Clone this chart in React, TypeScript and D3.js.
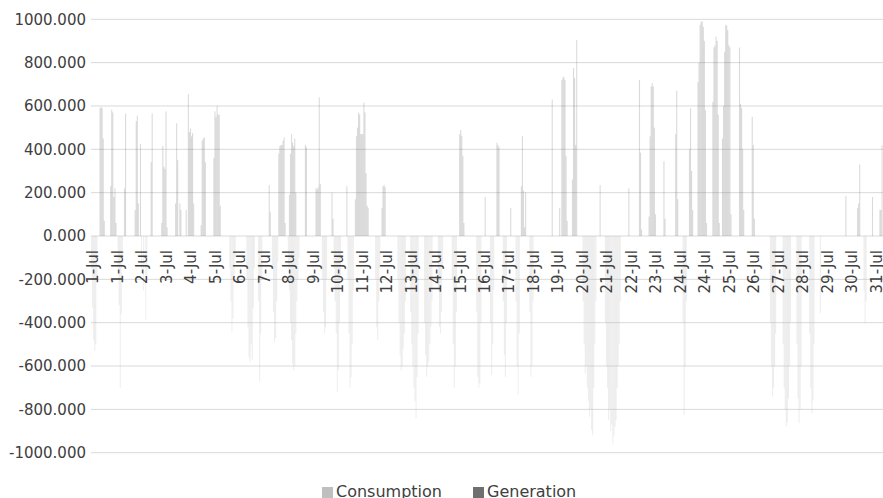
import React from "react";
import * as d3 from "d3";

// ---- data ----
// hourly categories for July: day 1..31, hour 0..23
const dayNumbers: number[] = d3.range(1, 32);
const hoursOfDay: number[] = d3.range(0, 24);

// [day, hour, value]
const generation: [number, number, number][] = [
  [1, 8, 590], [1, 9, 595], [1, 10, 590], [1, 11, 450], [1, 12, 70],
  [1, 18, 230], [1, 19, 583], [1, 20, 570], [1, 21, 180], [1, 22, 220], [1, 23, 60],
  [2, 7, 220], [2, 8, 565],
  [2, 17, 120], [2, 18, 530], [2, 19, 555], [2, 20, 150], [2, 22, 425],
  [3, 8, 340], [3, 9, 565],
  [3, 18, 60], [3, 19, 415], [3, 20, 320], [3, 21, 310], [3, 22, 575], [3, 23, 40],
  [4, 7, 150], [4, 8, 520], [4, 9, 350], [4, 11, 150], [4, 12, 120], [4, 17, 120],
  [4, 19, 655], [4, 20, 480], [4, 21, 495], [4, 22, 460], [4, 23, 475], [5, 0, 150],
  [5, 7, 50], [5, 8, 440], [5, 9, 450], [5, 10, 455], [5, 11, 340],
  [5, 19, 360], [5, 20, 575], [5, 21, 550], [5, 22, 600], [5, 23, 560], [6, 0, 560], [6, 1, 140],
  [7, 23, 235], [8, 0, 110],
  [8, 8, 380], [8, 9, 415], [8, 10, 420], [8, 11, 420], [8, 12, 440], [8, 13, 455], [8, 14, 60],
  [8, 18, 190], [8, 19, 380], [8, 20, 470], [8, 21, 430], [8, 22, 415], [8, 23, 450], [9, 0, 200],
  [9, 9, 420], [9, 10, 410],
  [9, 19, 220], [9, 20, 215], [9, 21, 225], [9, 22, 640], [9, 23, 240],
  [10, 10, 200], [10, 11, 80],
  [11, 0, 230],
  [11, 8, 170], [11, 9, 460], [11, 10, 500], [11, 11, 570], [11, 12, 560], [11, 13, 470], [11, 14, 470],
  [11, 15, 470], [11, 16, 615], [11, 17, 570], [11, 18, 290], [11, 19, 140], [11, 20, 130],
  [12, 9, 130], [12, 10, 230], [12, 11, 235], [12, 12, 225],
  [15, 10, 470], [15, 11, 490], [15, 12, 460], [15, 13, 370], [15, 14, 60],
  [16, 10, 180],
  [16, 21, 430], [16, 22, 420], [16, 23, 410],
  [17, 10, 130],
  [17, 20, 230], [17, 21, 460], [17, 22, 210], [17, 23, 40], [18, 0, 200],
  [19, 1, 630],
  [19, 8, 130], [19, 10, 720], [19, 11, 730], [19, 12, 735], [19, 13, 720], [19, 14, 370], [19, 15, 70],
  [19, 20, 260], [19, 21, 775], [19, 22, 730], [19, 23, 420], [20, 0, 905],
  [20, 22, 235],
  [22, 1, 220],
  [22, 11, 720], [22, 12, 385], [22, 13, 30],
  [22, 20, 90], [22, 21, 460], [22, 22, 690], [22, 23, 705], [23, 0, 690], [23, 1, 500], [23, 2, 100],
  [23, 10, 345], [23, 11, 80],
  [23, 21, 470], [23, 22, 670], [23, 23, 170],
  [24, 10, 400], [24, 11, 590], [24, 12, 300], [24, 13, 120],
  [24, 18, 710], [24, 19, 800], [24, 20, 975], [24, 21, 990], [24, 22, 990], [24, 23, 965],
  [25, 0, 900], [25, 1, 580], [25, 2, 60],
  [25, 8, 620], [25, 9, 870], [25, 10, 880], [25, 11, 920], [25, 12, 900], [25, 13, 560], [25, 14, 60],
  [25, 17, 450], [25, 18, 600], [25, 19, 850], [25, 20, 975], [25, 21, 970], [25, 22, 950],
  [25, 23, 880], [26, 0, 870], [26, 1, 100],
  [26, 9, 870], [26, 10, 610], [26, 11, 590], [26, 12, 400], [26, 13, 120],
  [26, 21, 550], [26, 22, 420], [26, 23, 80],
  [30, 13, 185],
  [31, 0, 130], [31, 1, 150], [31, 2, 330],
  [31, 14, 180],
  [31, 21, 120], [31, 22, 120], [31, 23, 420],
];

const consumption: [number, number, number][] = [
  [1, 0, -150], [1, 1, -330], [1, 2, -480], [1, 3, -530], [1, 4, -500], [1, 5, -200],
  [2, 1, -150], [2, 2, -320], [2, 3, -700], [2, 4, -360], [2, 5, -120],
  [2, 23, -150], [3, 1, -250], [3, 3, -385], [3, 4, -180],
  [6, 10, -150], [6, 11, -300], [6, 12, -440], [6, 13, -380], [6, 14, -200], [6, 15, -100],
  [7, 2, -200], [7, 3, -420], [7, 4, -560], [7, 5, -580], [7, 6, -500], [7, 7, -570], [7, 8, -330], [7, 9, -150],
  [7, 13, -300], [7, 14, -670], [7, 15, -450], [7, 16, -200],
  [8, 2, -150], [8, 3, -350], [8, 4, -490], [8, 5, -470], [8, 6, -300], [8, 7, -120],
  [8, 17, -150], [8, 18, -250], [8, 19, -400], [8, 20, -480], [8, 21, -590], [8, 22, -620], [8, 23, -600],
  [9, 0, -450], [9, 1, -300], [9, 2, -200], [9, 3, -100],
  [10, 1, -200], [10, 2, -350], [10, 3, -450], [10, 4, -420], [10, 5, -200],
  [10, 12, -150], [10, 13, -300], [10, 14, -450], [10, 15, -720], [10, 16, -620], [10, 17, -400], [10, 18, -180],
  [11, 1, -200], [11, 2, -450], [11, 3, -700], [11, 4, -650], [11, 5, -500], [11, 6, -250],
  [12, 3, -200], [12, 4, -420], [12, 5, -480], [12, 6, -300], [12, 7, -150],
  [13, 0, -200], [13, 1, -400], [13, 2, -550], [13, 3, -620], [13, 4, -600], [13, 5, -520], [13, 6, -450], [13, 7, -300],
  [13, 12, -350], [13, 13, -500], [13, 14, -600], [13, 15, -700], [13, 16, -760], [13, 17, -840], [13, 18, -650], [13, 19, -450],
  [14, 1, -400], [14, 2, -550], [14, 3, -650], [14, 4, -600], [14, 5, -580], [14, 6, -500], [14, 7, -420], [14, 8, -300],
  [14, 14, -250], [14, 15, -420], [14, 16, -450], [14, 17, -350], [14, 18, -150],
  [15, 3, -200], [15, 4, -500], [15, 5, -700], [15, 6, -600], [15, 7, -350],
  [16, 2, -350], [16, 3, -650], [16, 4, -700], [16, 5, -680], [16, 6, -400],
  [16, 15, -400], [16, 16, -640], [16, 17, -500], [16, 18, -250],
  [17, 3, -300], [17, 4, -550], [17, 5, -650], [17, 6, -400],
  [17, 15, -300], [17, 16, -600], [17, 17, -730], [17, 18, -450],
  [18, 4, -350], [18, 5, -650], [18, 6, -600], [18, 7, -300],
  [20, 6, -300], [20, 7, -500], [20, 8, -634], [20, 9, -600], [20, 10, -700], [20, 11, -760], [20, 12, -834],
  [20, 13, -800], [20, 14, -895], [20, 15, -920], [20, 16, -700], [20, 17, -500], [20, 18, -300],
  [21, 3, -400], [21, 4, -600], [21, 5, -700], [21, 6, -850], [21, 7, -800], [21, 8, -900], [21, 9, -870],
  [21, 10, -957], [21, 11, -920], [21, 12, -880], [21, 13, -850], [21, 14, -700], [21, 15, -600], [21, 16, -500], [21, 17, -300],
  [24, 4, -400], [24, 5, -826], [24, 6, -600], [24, 7, -300],
  [27, 14, -400], [27, 15, -600], [27, 16, -741], [27, 17, -700], [27, 18, -600], [27, 19, -450],
  [28, 2, -500], [28, 3, -700], [28, 4, -800], [28, 5, -880], [28, 6, -860], [28, 7, -750], [28, 8, -600], [28, 9, -400],
  [28, 15, -500], [28, 16, -750], [28, 17, -864], [28, 18, -800], [28, 19, -600],
  [29, 3, -450], [29, 4, -700], [29, 5, -818], [29, 6, -760], [29, 7, -500],
  [29, 13, -357],
  [31, 6, -250], [31, 7, -403], [31, 8, -300],
];

const yTicks: number[] = [-1000, -800, -600, -400, -200, 0, 200, 400, 600, 800, 1000];
const labelEvery = 23; // a date label every 23 hourly categories
const seriesNames: string[] = ["Consumption", "Generation"];
const seriesColors: string[] = ["#bfbfbf", "#6f6f6f"];

// ---- layout ----
const W = 883;
const H = 498;
const left = 91;
const right = 882.6;
const top = 19.3;
const bottom = 452.7;
const FONT = "'DejaVu Sans', sans-serif";
const TEXT = "#404040";
const GRID = "#d9d9d9";

const categories: string[] = [];
dayNumbers.forEach((d) => hoursOfDay.forEach((h) => categories.push(`${d}-Jul ${h}:00`)));
const keyOf = (d: number, h: number) => `${d}-Jul ${h}:00`;

const locale = d3.formatLocale({
  decimal: ".",
  thousands: ",",
  grouping: [3],
  currency: ["", ""],
  minus: "-",
});

export default function App() {
  const x = d3.scaleBand<string>().domain(categories).range([left, right]).paddingInner(0).paddingOuter(0);
  const y = d3.scaleLinear().domain([-1000, 1000]).range([bottom, top]);
  const fmt = locale.format(".3f");
  const bw = x.bandwidth();

  const tickCats = categories.filter((_, i) => i % labelEvery === 0);

  const bars = (data: [number, number, number][], color: string, name: string) =>
    data.map(([d, h, v], i) => {
      const x0 = x(keyOf(d, h)) as number;
      const y0 = y(Math.max(0, v));
      const y1 = y(Math.min(0, v));
      return (
        <rect
          key={name + i}
          x={x0}
          y={y0}
          width={bw}
          height={Math.max(0, y1 - y0)}
          fill={color}
          fillOpacity={0.26}
        />
      );
    });

  return (
    <svg
      width={W}
      height={H}
      style={{ position: "absolute", left: 0, top: 0, background: "#fff" }}
      fontFamily={FONT}
    >
      <rect x={0} y={0} width={W} height={H} fill="#fff" />
      {yTicks.map((t) => (
        <line key={"g" + t} x1={left} x2={W} y1={y(t)} y2={y(t)} stroke={GRID} strokeWidth={1} />
      ))}
      <g>{bars(consumption, seriesColors[0], "c")}</g>
      <g>{bars(generation, seriesColors[1], "g")}</g>
      {yTicks.map((t) => (
        <text
          key={"yl" + t}
          x={left - 5}
          y={y(t)}
          dy="0.36em"
          textAnchor="end"
          fontSize={15}
          fill={TEXT}
        >
          {fmt(t)}
        </text>
      ))}
      {tickCats.map((c, i) => {
        const cx = (x(c) as number) + bw / 2 + 1.5;
        const label = c.split(" ")[0];
        return (
          <text
            key={"xl" + i}
            transform={`translate(${cx},250) rotate(-90)`}
            dy="0.36em"
            textAnchor="end"
            fontSize={15}
            fill={TEXT}
          >
            {label}
          </text>
        );
      })}
      {seriesNames.map((n, i) => {
        const lx = [322, 473][i];
        return (
          <g key={"lg" + n}>
            <rect x={lx} y={487} width={11} height={11} fill={seriesColors[i]} />
            <text x={lx + 14} y={497} fontSize={16} fill={TEXT}>
              {n}
            </text>
          </g>
        );
      })}
    </svg>
  );
}
